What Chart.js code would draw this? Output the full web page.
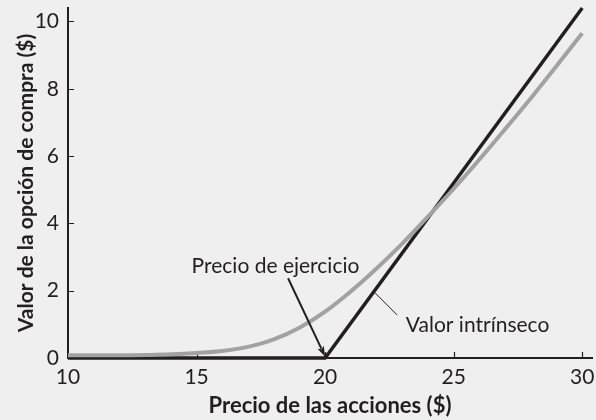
<!DOCTYPE html>
<html>
<head>
<meta charset="utf-8">
<title>Valor de la opción de compra</title>
<script src="https://cdn.jsdelivr.net/npm/chart.js@4.4.1/dist/chart.umd.min.js"></script>
<style>
  html, body { margin: 0; padding: 0; background: #efefef; }
  #wrap { width: 596px; height: 420px; }
</style>
</head>
<body>
<div id="wrap"><canvas id="chart" width="596" height="420"></canvas></div>
<script>
/* ---- values ---- */
const stockPrice = [10, 11, 12, 13, 14, 15, 16, 17, 18, 19, 20, 21, 22, 23, 24, 25, 26, 27, 28, 29, 30];
const callValue  = [0.08, 0.08, 0.08, 0.09, 0.11, 0.15, 0.21, 0.33, 0.55, 0.9, 1.38, 1.98, 2.66, 3.4, 4.2, 5.03, 5.9, 6.8, 7.72, 8.68, 9.65];
const intrinsicPrice = [10, 20, 30];
const intrinsicValue = [0, 0, 10.4];
const xTicks = [10, 15, 20, 25, 30];
const yTicks = [0, 2, 4, 6, 8, 10];

const INK = '#231f20';
const GREY = '#a2a2a2';
const FONT = 'Lato, "Open Sans", sans-serif';

// callouts, placed in data units
const callouts = [
  { text: 'Precio de ejercicio', tx: 18.07, ty: 2.52, from: [18.56, 2.37], to: [20, 0.04], arrow: true },
  { text: 'Valor intrínseco', tx: 25.93, ty: 0.77, from: [22.8, 1.28], to: [21.95, 1.93], arrow: false }
];

const figureMarks = {
  id: 'figureMarks',
  beforeDatasetsDraw(chart) {
    // short inward tick marks on both axes
    const { ctx, scales: { x, y } } = chart;
    ctx.save();
    ctx.strokeStyle = INK;
    ctx.lineWidth = 1.2;
    ctx.beginPath();
    xTicks.slice(1).forEach(v => {
      const p = Math.round(x.getPixelForValue(v)) + 0.5;
      ctx.moveTo(p, y.bottom);
      ctx.lineTo(p, y.bottom - 6);
    });
    yTicks.slice(1).forEach(v => {
      const p = Math.round(y.getPixelForValue(v)) + 0.5;
      ctx.moveTo(x.left, p);
      ctx.lineTo(x.left + 6, p);
    });
    ctx.stroke();
    ctx.restore();
  },
  afterDatasetsDraw(chart) {
    const { ctx, scales: { x, y } } = chart;
    ctx.save();
    ctx.fillStyle = INK;
    ctx.strokeStyle = INK;
    ctx.font = '21px ' + FONT;
    ctx.textAlign = 'center';
    ctx.textBaseline = 'alphabetic';
    callouts.forEach(c => {
      ctx.fillText(c.text, x.getPixelForValue(c.tx), y.getPixelForValue(c.ty));
      const x0 = x.getPixelForValue(c.from[0]), y0 = y.getPixelForValue(c.from[1]);
      const x1 = x.getPixelForValue(c.to[0]), y1 = y.getPixelForValue(c.to[1]);
      const ang = Math.atan2(y1 - y0, x1 - x0);
      const head = c.arrow ? 11 : 0;
      ctx.lineWidth = c.arrow ? 2 : 1;
      ctx.beginPath();
      ctx.moveTo(x0, y0);
      ctx.lineTo(x1 - Math.cos(ang) * head * 0.8, y1 - Math.sin(ang) * head * 0.8);
      ctx.stroke();
      if (c.arrow) {
        ctx.beginPath();
        ctx.moveTo(x1, y1);
        ctx.lineTo(x1 - head * Math.cos(ang - 0.32), y1 - head * Math.sin(ang - 0.32));
        ctx.lineTo(x1 - head * 0.75 * Math.cos(ang), y1 - head * 0.75 * Math.sin(ang));
        ctx.lineTo(x1 - head * Math.cos(ang + 0.32), y1 - head * Math.sin(ang + 0.32));
        ctx.closePath();
        ctx.fill();
      }
    });
    ctx.restore();
  }
};

// keep the plot box fixed: no extra room for overhanging end labels
function noOverhang(s) {
  s.paddingLeft = 0; s.paddingRight = 0;
  s.paddingTop = 0; s.paddingBottom = 0;
}

new Chart(document.getElementById('chart'), {
  type: 'line',
  data: {
    datasets: [
      {
        label: 'Valor de la opción',
        data: stockPrice.map((p, i) => ({ x: p, y: callValue[i] })),
        borderColor: GREY,
        borderWidth: 4,
        pointRadius: 0,
        tension: 0.4,
        clip: false
      },
      {
        label: 'Valor intrínseco',
        data: intrinsicPrice.map((p, i) => ({ x: p, y: intrinsicValue[i] })),
        borderColor: INK,
        borderWidth: 3.5,
        pointRadius: 0,
        tension: 0,
        clip: false
      }
    ]
  },
  options: {
    responsive: false,
    animation: false,
    events: [],
    layout: { padding: { top: 8, right: 4, left: 0, bottom: 0 } },
    plugins: { legend: { display: false }, tooltip: { enabled: false } },
    scales: {
      x: {
        type: 'linear',
        min: 10, max: 30.38,
        afterBuildTicks: s => { s.ticks = xTicks.map(v => ({ value: v })); },
        afterFit: s => { s.height = 62; noOverhang(s); },
        grid: { display: false, drawTicks: false },
        border: { display: true, color: INK, width: 2 },
        ticks: { color: INK, padding: 7, font: { family: FONT, size: 21 } },
        title: {
          display: true, text: 'Precio de las acciones ($)', color: INK,
          padding: { top: 0, bottom: 1 },
          font: { family: FONT, size: 22, weight: 'bold' }
        }
      },
      y: {
        type: 'linear',
        min: 0, max: 10.4,
        afterBuildTicks: s => { s.ticks = yTicks.map(v => ({ value: v })); },
        afterFit: s => { s.width = 68; noOverhang(s); },
        grid: { display: false, drawTicks: false },
        border: { display: true, color: INK, width: 2 },
        ticks: { color: INK, padding: 9, font: { family: FONT, size: 21 } },
        title: {
          display: true, text: 'Valor de la opción de compra ($)', color: INK,
          padding: { top: 14, bottom: 0 },
          font: { family: FONT, size: 21, weight: 'bold' }
        }
      }
    }
  },
  plugins: [figureMarks]
});
</script>
</body>
</html>
